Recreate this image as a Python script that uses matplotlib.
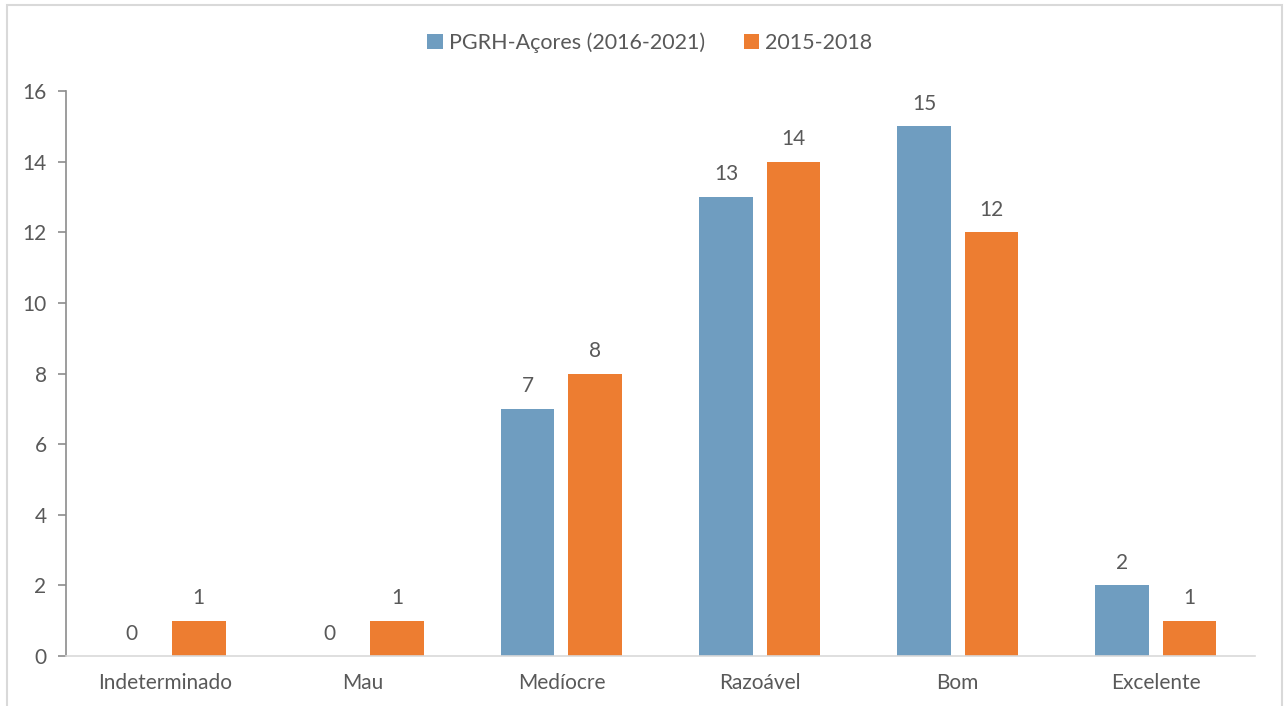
import numpy as np
import matplotlib.pyplot as plt
from matplotlib.patches import Rectangle

categorias = ['Indeterminado', 'Mau', 'Medíocre', 'Razoável', 'Bom', 'Excelente']
pgrh = [0, 0, 7, 13, 15, 2]
periodo = [1, 1, 8, 14, 12, 1]
series_nomes = ['PGRH-Açores (2016-2021)', '2015-2018']

azul = '#6f9dc0'
laranja = '#ed7d31'
cinza = '#595959'

plt.rcParams['font.family'] = ['Lato', 'DejaVu Sans']

fig = plt.figure(figsize=(12.86, 7.06), dpi=100)
ax = fig.add_axes([66 / 1286, 1 - 656 / 706, (1255 - 66) / 1286, (656 - 91) / 706])

# moldura do gráfico
fig.patches.append(Rectangle((7 / 1286, -0.01), (1282 - 7) / 1286, 1 - 5 / 706 + 0.01,
                             transform=fig.transFigure, fill=False,
                             edgecolor='#d9d9d9', linewidth=1.5))

x = np.arange(len(categorias))
w = 0.27
off = 0.17
b1 = ax.bar(x - off, pgrh, w, color=azul, label=series_nomes[0])
b2 = ax.bar(x + off, periodo, w, color=laranja, label=series_nomes[1])

for barras in (b1, b2):
    for b in barras:
        h = b.get_height()
        ax.annotate(f'{h:g}', (b.get_x() + b.get_width() / 2, h),
                    xytext=(0, 9), textcoords='offset points',
                    ha='center', va='bottom', fontsize=15, color=cinza)

ax.set_xlim(-0.5, 5.5)
ax.set_ylim(0, 16)
ax.set_yticks(range(0, 17, 2))
ax.set_xticks(x)
ax.set_xticklabels(categorias)

for s in ['top', 'right']:
    ax.spines[s].set_visible(False)
ax.spines['left'].set_color('#8c8c8c')
ax.spines['bottom'].set_color('#d9d9d9')
ax.spines['left'].set_linewidth(1.2)
ax.spines['bottom'].set_linewidth(1.2)
ax.tick_params(axis='y', colors='#8c8c8c', labelcolor=cinza, labelsize=15, length=6, width=1.2, pad=8)
ax.tick_params(axis='x', length=0, labelcolor=cinza, labelsize=15, pad=12)

leg = fig.legend(loc='center', bbox_to_anchor=(650 / 1286, 1 - 43 / 706), ncol=2,
                 frameon=False, fontsize=15.5, handlelength=0.7, handleheight=0.7,
                 handletextpad=0.3, columnspacing=1.8)
for t in leg.get_texts():
    t.set_color(cinza)

fig.savefig('out.png', dpi=100)
